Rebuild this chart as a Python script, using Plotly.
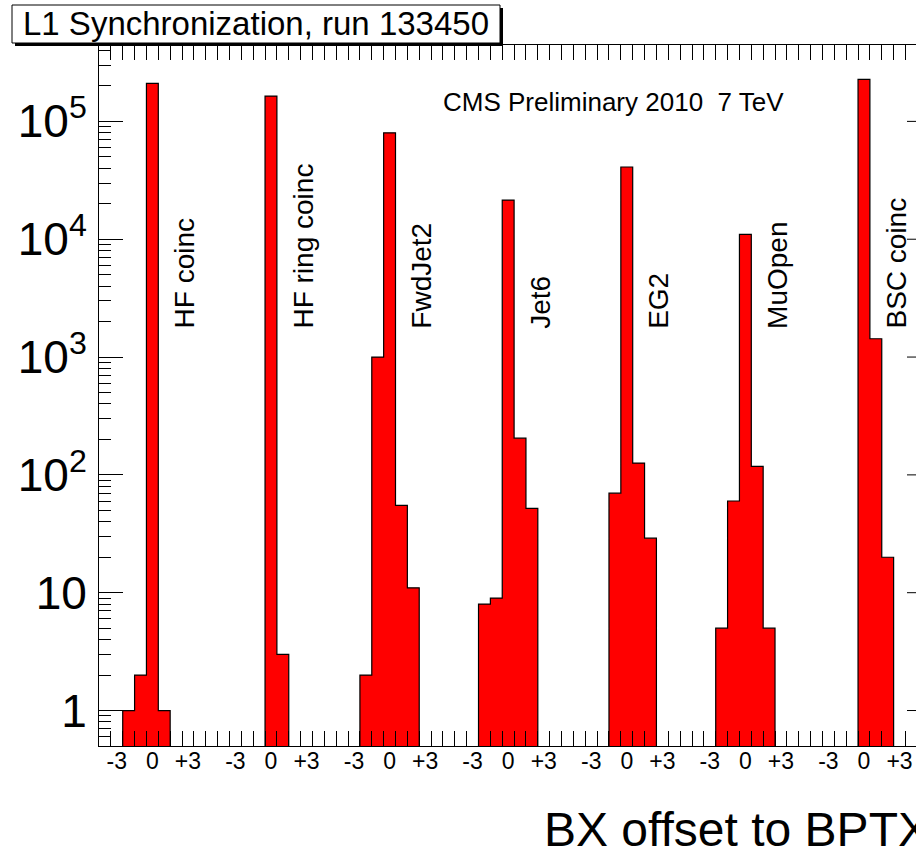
import math
import plotly.graph_objects as go

# ---------------- data ----------------
triggers = ["HF coinc", "HF ring coinc", "FwdJet2", "Jet6", "EG2", "MuOpen", "BSC coinc"]
bx_offsets = [-4, -3, -2, -1, 0, 1, 2, 3, 4, 5]
hf_coinc      = [0, 0, 1, 2, 2.1e5, 1, 0, 0, 0, 0]
hf_ring_coinc = [0, 0, 0, 0, 1.64e5, 3, 0, 0, 0, 0]
fwdjet2       = [0, 0, 2, 1000, 8.0e4, 55, 11, 0, 0, 0]
jet6          = [0, 0, 8, 9, 2.15e4, 205, 52, 0, 0, 0]
eg2           = [0, 0, 0, 70, 4.1e4, 126, 29, 0, 0, 0]
muopen        = [0, 0, 5, 60, 1.1e4, 118, 5, 0, 0, 0]
bsc_coinc     = [0, 0, 0, 0, 2.27e5, 1430, 20, 0, 0, 0]
series = [hf_coinc, hf_ring_coinc, fwdjet2, jet6, eg2, muopen, bsc_coinc]
shown_offsets = [-3, 0, 3]
shown_offset_text = ["-3", "0", "+3"]
y_major = [1, 10, 100, 1e3, 1e4, 1e5]
y_major_text = ["1", "10", "10<sup>2</sup>", "10<sup>3</sup>", "10<sup>4</sup>", "10<sup>5</sup>"]

title_text = "L1 Synchronization, run 133450"
cms_text = "CMS Preliminary 2010  7 TeV"
x_title = "BX offset to BPTX"

# ---------------- geometry helpers ----------------
W, H = 916, 848
ML, MR, MT, MB = 99, 0, 45, 102
PW, PH = W - ML - MR, H - MT - MB
ngroup = len(bx_offsets)
nbins = ngroup * len(series)
px_per_bin = 11.86
x_max = PW / px_per_bin
y_min, y_max = 0.5, 4.45e5
floor = 0.05

def px(xp):
    return (xp - ML) / PW

def py(yp):
    return (H - MB - yp) / PH

# histogram contents in bin order
counts = []
for s in series:
    counts.extend(s)

# step outline of the histogram
sx, sy = [0], [floor]
for i, v in enumerate(counts):
    yv = v if v > 0 else floor
    sx += [i, i + 1]
    sy += [yv, yv]
sx.append(nbins)
sy.append(floor)

fig = go.Figure()
fig.add_trace(go.Scatter(
    x=sx, y=sy, mode="lines", fill="toself", fillcolor="#ff0000",
    line=dict(color="black", width=1.2), hoverinfo="skip", showlegend=False))

zero_idx = bx_offsets.index(0)
label_vals, label_text = [], []
for g in range(len(series)):
    for o, t in zip(shown_offsets, shown_offset_text):
        label_vals.append(g * ngroup + zero_idx + o + 0.5)
        label_text.append(t)

FONT = "Liberation Sans, Arial, Helvetica, sans-serif"

fig.update_layout(
    width=W, height=H,
    margin=dict(l=ML, r=MR, t=MT, b=MB, pad=0, autoexpand=False),
    paper_bgcolor="white", plot_bgcolor="white",
    font=dict(family=FONT, color="black"),
    showlegend=False,
    xaxis=dict(
        range=[0, x_max], showgrid=False, zeroline=False, automargin=False,
        showline=True, linecolor="black", linewidth=1, mirror="ticks",
        tickmode="array", tickvals=label_vals, ticktext=label_text,
        ticks="inside", ticklen=0, tickfont=dict(size=23, family=FONT),
        ticklabelstandoff=-6,
        minor=dict(tickmode="array", tickvals=list(range(0, nbins + 1)),
                   ticks="inside", ticklen=15, tickcolor="black", tickwidth=1,
                   showgrid=False),
    ),
    yaxis=dict(
        type="log", range=[math.log10(y_min), math.log10(y_max)],
        showgrid=False, zeroline=False, automargin=False,
        showline=True, linecolor="black", linewidth=1, mirror=False,
        tickmode="array", tickvals=y_major, ticktext=y_major_text,
        ticks="inside", ticklen=24, tickcolor="black", tickwidth=1,
        tickfont=dict(size=46, family=FONT), ticklabelstandoff=2,
        minor=dict(tickmode="array",
                   tickvals=[m * 10 ** k for k in range(-1, 6) for m in range(2, 10)
                             if y_min < m * 10 ** k < y_max],
                   ticks="inside", ticklen=12, tickcolor="black", tickwidth=1,
                   showgrid=False),
    ),
)

shapes = []
# right-side axis ticks (axis itself lies just beyond the visible canvas)
for v in y_major:
    shapes.append(dict(type="line", xref="paper", yref="y",
                       x0=px(907), x1=px(931), y0=v, y1=v,
                       line=dict(color="black", width=1), layer="above"))
# title pave with shadow
shapes.append(dict(type="rect", xref="paper", yref="paper",
                   x0=px(15), x1=px(503), y0=py(46), y1=py(8),
                   fillcolor="black", line=dict(width=0), layer="above"))
shapes.append(dict(type="rect", xref="paper", yref="paper",
                   x0=px(12), x1=px(500), y0=py(43), y1=py(5),
                   fillcolor="white", line=dict(color="black", width=1), layer="above"))
fig.update_layout(shapes=shapes)

ann = []
ann.append(dict(text=title_text, xref="paper", yref="paper", x=px(256), y=py(24),
                xanchor="center", yanchor="middle", showarrow=False,
                font=dict(size=33, family=FONT, color="black")))
ann.append(dict(text=cms_text, xref="paper", yref="paper", x=px(441), y=py(102),
                xanchor="left", yanchor="middle", showarrow=False,
                font=dict(size=26, family=FONT, color="black")))
ann.append(dict(text=x_title, xref="paper", yref="paper", x=px(542), y=py(829),
                xanchor="left", yanchor="middle", showarrow=False,
                font=dict(size=48, family=FONT, color="black")))
for g, name in enumerate(triggers):
    ann.append(dict(text=name, xref="x", yref="y",
                    x=g * ngroup + zero_idx + 0.5 + 2.72, y=math.log10(1670),
                    textangle=-90, xanchor="center", yanchor="bottom", showarrow=False,
                    font=dict(size=28, family=FONT, color="black")))
fig.update_layout(annotations=ann)

fig.write_html(
    "out.html",
    config={"displayModeBar": False},
    post_script="document.body.style.margin='0px';document.body.style.overflow='hidden';",
)
